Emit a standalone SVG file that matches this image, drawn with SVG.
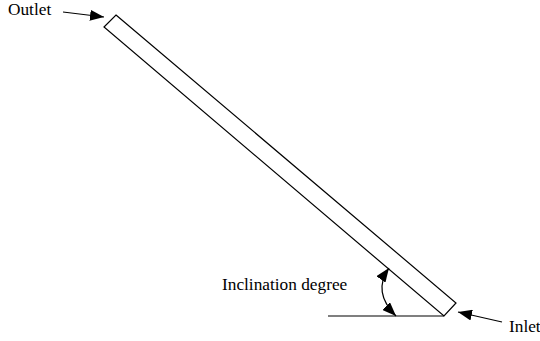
<svg xmlns="http://www.w3.org/2000/svg" width="540" height="341" viewBox="0 0 540 341">
<style>
.t{font-family:"Liberation Serif","Times New Roman",serif;font-size:17.3px;fill:#000}
.l{fill:none;stroke:#000;stroke-width:1.2}
</style>
<defs>
<marker id="ah" viewBox="0 0 14 11" refX="14" refY="5.5" markerWidth="14" markerHeight="11" markerUnits="userSpaceOnUse" orient="auto-start-reverse">
<path d="M0,0 L14,5.5 L0,11 z" fill="#000"/>
</marker>
</defs>
<rect width="540" height="341" fill="#fff"/>
<g id="pipe">
<polygon class="l" points="116,15 456,303 444,316 104,27"/>
</g>
<g id="ground">
<line class="l" x1="328" y1="316" x2="444" y2="316"/>
</g>
<g id="labels">
<text class="t" x="8" y="15">Outlet</text>
<text class="t" x="222" y="290">Inclination degree</text>
<text class="t" x="509" y="332">Inlet</text>
</g>
<g id="connectors">
<line class="l" x1="63" y1="12" x2="104" y2="17" marker-end="url(#ah)"/>
<line class="l" x1="502" y1="322" x2="458" y2="312" marker-end="url(#ah)"/>
<path class="l" d="M389,268 Q372,292 396,316" marker-start="url(#ah)" marker-end="url(#ah)"/>
</g>
</svg>
